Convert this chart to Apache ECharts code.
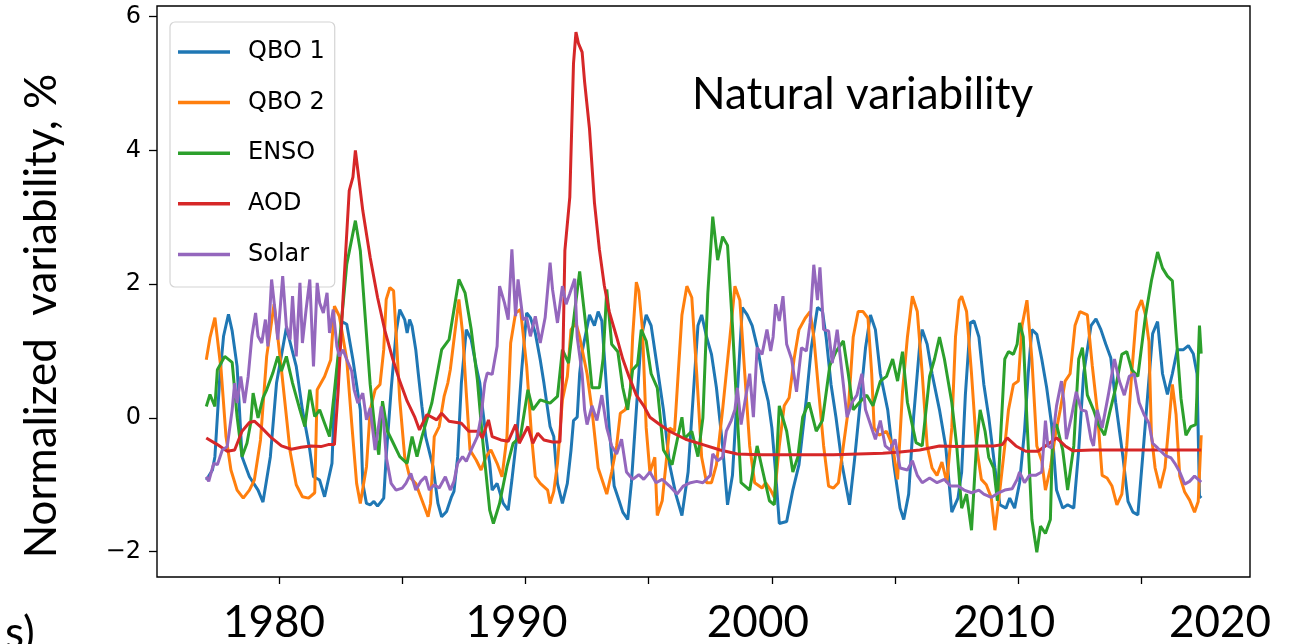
<!DOCTYPE html>
<html>
<head>
<meta charset="utf-8">
<title>Natural variability</title>
<script src="https://cdn.jsdelivr.net/npm/echarts@6/dist/echarts.min.js"></script>
<style>
  html, body { margin: 0; padding: 0; background: #ffffff; }
  #chart { width: 1294px; height: 644px; }
</style>
</head>
<body>
<div id="chart"></div>
<script>
// Normalized natural-variability proxies, [decimal year, value in %]
const seriesNames = ['QBO 1', 'QBO 2', 'ENSO', 'AOD', 'Solar'];
const seriesColors = ['#1f77b4', '#ff7f0e', '#2ca02c', '#d62728', '#9467bd'];

const qbo1 = [
  [1977.05,-0.93],[1977.3,-0.78],[1977.4,-0.58],[1977.6,0.62],[1977.75,1.22],[1977.95,1.55],[1978.1,1.3],[1978.3,0.77],[1978.5,-0.58],[1978.8,-0.88],[1979.15,-1.08],[1979.35,-1.26],[1979.65,-0.58],[1979.9,0.52],[1980.3,1.35],[1980.7,0.77],[1980.95,0.12],[1981.25,-0.48],[1981.4,-0.88],[1981.65,-0.93],[1981.85,-1.18],[1982.15,-0.68],[1982.25,0.27],[1982.55,1.44],[1982.75,1.4],[1983.0,0.87],[1983.3,0.12],[1983.4,-0.98],[1983.55,-1.28],[1983.7,-1.3],[1983.85,-1.25],[1984.0,-1.32],[1984.15,-1.25],[1984.25,-1.2],[1984.35,-0.58],[1984.55,0.42],[1984.75,1.27],[1984.9,1.62],[1985.1,1.47],[1985.2,1.27],[1985.3,1.47],[1985.4,1.37],[1985.55,1.02],[1985.65,0.67],[1985.8,0.17],[1985.95,-0.28],[1986.05,-0.43],[1986.25,-0.73],[1986.45,-1.28],[1986.6,-1.48],[1986.8,-1.4],[1987.0,-1.18],[1987.1,-1.1],[1987.25,-0.58],[1987.4,0.52],[1987.6,1.32],[1987.8,1.17],[1988.0,0.77],[1988.15,0.52],[1988.25,0.17],[1988.4,-0.28],[1988.55,-0.68],[1988.65,-1.08],[1988.85,-0.98],[1989.1,-1.28],[1989.3,-1.38],[1989.45,-0.93],[1989.65,-0.28],[1989.85,0.72],[1990.05,1.57],[1990.2,1.5],[1990.4,1.27],[1990.6,0.87],[1990.75,0.52],[1991.0,-0.13],[1991.15,-0.28],[1991.3,-0.98],[1991.5,-1.28],[1991.7,-0.98],[1991.85,-0.48],[1991.95,-0.04],[1992.1,0.01],[1992.2,0.66],[1992.3,0.99],[1992.6,1.54],[1992.8,1.38],[1992.95,1.59],[1993.1,1.45],[1993.25,0.66],[1993.4,-0.15],[1993.6,-1.02],[1993.8,-1.24],[1993.95,-1.41],[1994.15,-1.52],[1994.3,-0.97],[1994.5,0.12],[1994.7,1.21],[1994.9,1.54],[1995.1,1.38],[1995.3,0.88],[1995.45,0.5],[1995.6,0.12],[1995.85,-0.7],[1996.1,-1.14],[1996.35,-1.46],[1996.6,-0.81],[1996.8,0.29],[1997.0,1.38],[1997.15,1.54],[1997.35,1.21],[1997.55,0.95],[1997.75,0.45],[1998.0,-0.42],[1998.2,-1.3],[1998.4,-0.86],[1998.6,0.39],[1998.8,1.65],[1999.0,1.54],[1999.2,1.38],[1999.45,0.99],[1999.65,0.55],[1999.85,0.25],[2000.0,-0.15],[2000.15,-0.81],[2000.3,-1.58],[2000.6,-1.55],[2000.85,-1.08],[2001.1,-0.7],[2001.4,0.29],[2001.6,1.05],[2001.85,1.65],[2002.05,1.6],[2002.2,1.21],[2002.4,0.5],[2002.6,0.01],[2002.85,-0.7],[2003.15,-1.3],[2003.35,-0.64],[2003.6,0.29],[2003.8,1.05],[2004.0,1.54],[2004.2,1.32],[2004.4,0.66],[2004.7,0.12],[2004.95,-0.7],[2005.2,-1.35],[2005.35,-1.52],[2005.55,-1.14],[2005.75,0.01],[2006.0,1.1],[2006.1,1.32],[2006.3,1.1],[2006.5,0.66],[2006.8,0.12],[2007.05,-0.42],[2007.3,-1.41],[2007.55,-1.2],[2007.7,-0.81],[2007.85,0.34],[2008.05,1.42],[2008.2,1.45],[2008.4,1.21],[2008.6,0.5],[2008.8,0.01],[2009.05,-0.75],[2009.25,-1.3],[2009.5,-1.35],[2009.65,-1.2],[2009.85,-1.35],[2010.05,-0.97],[2010.25,-0.2],[2010.4,0.66],[2010.55,1.32],[2010.75,1.25],[2010.95,0.88],[2011.15,0.45],[2011.35,-0.1],[2011.55,-1.08],[2011.8,-1.35],[2012.0,-1.3],[2012.25,-1.35],[2012.45,-0.48],[2012.65,0.66],[2012.95,1.38],[2013.15,1.48],[2013.35,1.32],[2013.55,1.1],[2013.75,0.9],[2013.95,0.23],[2014.25,-0.6],[2014.45,-1.25],[2014.65,-1.41],[2014.85,-1.45],[2015.05,-0.56],[2015.25,0.35],[2015.45,1.26],[2015.65,1.44],[2015.85,0.66],[2016.05,0.35],[2016.25,0.66],[2016.45,1.02],[2016.7,1.02],[2016.9,1.08],[2017.1,0.96],[2017.25,0.66],[2017.35,-1.17],[2017.42,-1.2]
];

const qbo2 = [
  [1977.05,0.87],[1977.2,1.2],[1977.4,1.5],[1977.65,0.72],[1977.85,-0.28],[1978.05,-0.78],[1978.3,-1.08],[1978.55,-1.2],[1978.8,-1.08],[1979.0,-0.93],[1979.25,-0.33],[1979.5,0.92],[1979.8,1.7],[1980.1,0.72],[1980.45,-0.5],[1980.7,-1.0],[1980.95,-1.18],[1981.2,-1.2],[1981.45,-1.12],[1981.55,0.42],[1981.85,0.62],[1982.1,0.87],[1982.25,1.67],[1982.45,1.52],[1982.75,0.87],[1982.95,-0.08],[1983.15,-0.98],[1983.3,-1.28],[1983.55,-0.73],[1983.7,0.12],[1983.9,0.42],[1984.1,0.5],[1984.25,1.02],[1984.35,1.77],[1984.5,1.95],[1984.65,1.9],[1984.75,1.27],[1984.9,0.27],[1985.1,-0.58],[1985.3,-0.88],[1985.55,-0.98],[1985.7,-1.13],[1985.9,-1.33],[1986.05,-1.48],[1986.15,-1.28],[1986.3,-0.28],[1986.5,-0.13],[1986.7,0.32],[1986.85,0.52],[1986.95,0.72],[1987.3,1.77],[1987.45,1.27],[1987.6,0.37],[1987.75,-0.48],[1988.0,-0.63],[1988.2,-0.78],[1988.4,-0.58],[1988.6,-0.48],[1988.85,-0.68],[1989.05,-0.88],[1989.25,-0.28],[1989.4,1.12],[1989.6,1.57],[1989.8,1.62],[1990.05,0.77],[1990.25,-0.28],[1990.4,-0.88],[1990.6,-0.98],[1990.9,-1.08],[1991.0,-1.28],[1991.15,-1.1],[1991.3,-0.68],[1991.5,0.27],[1991.7,0.62],[1991.85,1.32],[1992.05,1.42],[1992.2,1.21],[1992.5,0.66],[1992.7,0.12],[1992.95,-0.75],[1993.15,-0.97],[1993.3,-1.14],[1993.5,-0.81],[1993.7,-0.42],[1993.85,0.07],[1994.05,0.12],[1994.25,0.34],[1994.35,1.21],[1994.5,2.03],[1994.6,1.9],[1994.75,1.32],[1994.9,-0.15],[1995.05,-0.81],[1995.25,-0.59],[1995.35,-1.46],[1995.55,-1.24],[1995.7,-0.7],[1995.85,-0.15],[1996.05,-0.2],[1996.35,1.54],[1996.55,1.97],[1996.75,1.8],[1996.95,0.66],[1997.15,-0.59],[1997.35,-0.97],[1997.55,-0.97],[1997.75,-0.7],[1998.0,0.12],[1998.3,1.21],[1998.5,1.97],[1998.7,1.76],[1998.9,0.66],[1999.1,-0.42],[1999.3,-0.97],[1999.6,-1.05],[1999.75,-0.97],[1999.95,-1.08],[2000.1,-1.19],[2000.3,-0.42],[2000.5,0.18],[2000.7,0.3],[2000.9,0.88],[2001.1,1.32],[2001.35,1.49],[2001.55,1.59],[2001.7,1.21],[2001.9,0.39],[2002.1,-0.42],[2002.3,-1.02],[2002.5,-1.05],[2002.7,-0.97],[2002.9,-0.42],[2003.1,0.12],[2003.3,1.21],[2003.5,1.59],[2003.7,1.59],[2003.9,1.49],[2004.05,0.66],[2004.15,-0.15],[2004.35,-0.26],[2004.65,-0.2],[2004.9,-0.42],[2005.1,-0.92],[2005.3,0.39],[2005.5,1.21],[2005.7,1.82],[2005.9,1.59],[2006.1,0.66],[2006.3,-0.42],[2006.5,-0.75],[2006.7,-0.86],[2006.9,-0.66],[2007.1,-0.97],[2007.3,-0.15],[2007.45,1.21],[2007.6,1.76],[2007.7,1.82],[2007.9,1.59],[2008.1,0.66],[2008.3,-0.42],[2008.5,-0.92],[2008.7,-1.0],[2008.9,-1.19],[2009.05,-1.68],[2009.25,-1.08],[2009.45,-0.42],[2009.6,0.12],[2009.8,0.5],[2010.0,0.55],[2010.15,1.38],[2010.35,1.76],[2010.55,0.88],[2010.75,-0.42],[2010.95,-0.64],[2011.1,-1.08],[2011.3,-0.75],[2011.5,-0.26],[2011.7,0.12],[2011.9,0.55],[2012.1,0.66],[2012.3,1.38],[2012.5,1.59],[2012.8,1.54],[2013.0,0.78],[2013.2,0.12],[2013.4,-0.86],[2013.6,-0.9],[2013.8,-1.02],[2014.0,-1.3],[2014.2,-1.14],[2014.4,-0.42],[2014.6,0.66],[2014.8,1.59],[2015.0,1.76],[2015.15,1.55],[2015.3,1.14],[2015.4,-0.26],[2015.55,-0.75],[2015.75,-1.05],[2015.95,-0.75],[2016.1,-0.13],[2016.25,0.5],[2016.4,0.05],[2016.55,-0.87],[2016.75,-1.11],[2016.95,-1.23],[2017.15,-1.41],[2017.3,-1.25],[2017.42,-0.26]
];

const enso = [
  [1977.05,0.17],[1977.2,0.35],[1977.4,0.17],[1977.5,0.72],[1977.8,0.92],[1978.1,0.83],[1978.3,0.02],[1978.5,-0.58],[1978.7,-0.38],[1978.85,-0.08],[1978.95,0.37],[1979.15,0.0],[1979.35,0.3],[1979.5,0.42],[1979.75,0.67],[1979.95,0.92],[1980.1,0.7],[1980.3,0.92],[1980.55,0.52],[1980.85,0.12],[1981.05,-0.13],[1981.25,0.42],[1981.45,0.02],[1981.65,0.12],[1981.85,-0.08],[1982.05,-0.28],[1982.25,0.4],[1982.5,1.3],[1982.75,2.3],[1983.1,2.95],[1983.3,2.5],[1983.5,1.5],[1983.7,0.5],[1983.9,-0.2],[1984.05,-0.55],[1984.2,0.25],[1984.4,-0.2],[1984.6,-0.35],[1984.9,-0.58],[1985.2,-0.68],[1985.4,-0.28],[1985.6,-0.58],[1985.8,-0.28],[1986.2,0.22],[1986.6,1.02],[1986.9,1.17],[1987.3,2.07],[1987.55,1.87],[1987.8,1.32],[1988.05,0.57],[1988.25,-0.28],[1988.55,-1.38],[1988.7,-1.58],[1988.95,-1.28],[1989.25,-0.73],[1989.5,-0.38],[1989.8,-0.28],[1990.1,0.42],[1990.3,0.12],[1990.6,0.27],[1991.0,0.22],[1991.3,0.32],[1991.5,1.02],[1991.75,0.82],[1992.0,1.6],[1992.2,2.19],[1992.5,1.22],[1992.7,0.45],[1993.0,0.45],[1993.15,0.88],[1993.3,1.92],[1993.5,1.1],[1993.75,0.99],[1993.95,0.45],[1994.15,0.12],[1994.35,0.72],[1994.55,0.8],[1994.7,1.32],[1994.9,1.15],[1995.1,0.66],[1995.35,0.45],[1995.6,-0.48],[1995.95,-0.7],[1996.35,0.01],[1996.45,-0.31],[1996.75,-0.2],[1997.0,-0.58],[1997.2,0.0],[1997.4,1.86],[1997.6,3.01],[1997.8,2.36],[1998.0,2.71],[1998.2,2.58],[1998.4,1.38],[1998.55,0.34],[1998.75,-0.97],[1999.1,-1.08],[1999.4,-0.42],[1999.6,-0.75],[1999.9,-1.24],[2000.1,-1.3],[2000.3,0.18],[2000.6,-0.2],[2000.85,-0.81],[2001.05,-0.59],[2001.25,0.01],[2001.5,0.23],[2001.8,-0.2],[2002.05,-0.04],[2002.35,0.78],[2002.6,0.99],[2002.9,1.15],[2003.1,0.66],[2003.3,0.12],[2003.55,0.23],[2003.85,0.34],[2004.1,0.18],[2004.4,0.55],[2004.65,0.62],[2004.9,0.88],[2005.1,0.55],[2005.3,0.99],[2005.5,0.23],[2005.85,-0.37],[2006.1,-0.42],[2006.4,0.62],[2006.6,0.88],[2006.8,1.21],[2007.0,0.88],[2007.3,0.23],[2007.5,-0.42],[2007.7,-1.35],[2007.9,-1.14],[2008.1,-1.68],[2008.3,-0.42],[2008.45,0.12],[2008.65,-0.2],[2008.8,-0.59],[2009.0,-0.75],[2009.15,-1.24],[2009.3,-0.15],[2009.45,0.88],[2009.6,0.99],[2009.8,0.95],[2009.95,1.1],[2010.05,1.42],[2010.2,1.21],[2010.35,-0.04],[2010.55,-1.52],[2010.75,-2.01],[2010.9,-1.62],[2011.1,-1.73],[2011.3,-1.52],[2011.4,-0.15],[2011.55,-0.1],[2011.8,-0.48],[2012.0,-1.08],[2012.25,-0.42],[2012.45,0.88],[2012.6,1.05],[2012.8,0.34],[2013.05,0.12],[2013.25,-0.1],[2013.5,-0.26],[2013.7,0.07],[2013.95,0.45],[2014.2,0.95],[2014.4,0.99],[2014.6,0.72],[2014.85,0.62],[2015.15,1.5],[2015.4,2.05],[2015.65,2.48],[2015.85,2.24],[2016.05,2.12],[2016.25,2.05],[2016.4,1.26],[2016.6,0.29],[2016.8,-0.26],[2017.0,-0.13],[2017.2,-0.1],[2017.35,1.38],[2017.42,0.96]
];

const aod = [
  [1977.05,-0.3],[1977.5,-0.4],[1977.9,-0.5],[1978.2,-0.48],[1978.5,-0.2],[1978.8,-0.07],[1979.0,-0.05],[1979.3,-0.15],[1979.7,-0.3],[1980.1,-0.42],[1980.5,-0.47],[1980.9,-0.44],[1981.3,-0.42],[1981.7,-0.43],[1982.0,-0.4],[1982.25,-0.4],[1982.4,0.4],[1982.6,1.8],[1982.85,3.4],[1983.0,3.6],[1983.1,4.0],[1983.2,3.7],[1983.4,3.1],[1983.7,2.4],[1984.0,1.8],[1984.3,1.3],[1984.6,0.9],[1984.9,0.55],[1985.2,0.25],[1985.5,0.02],[1985.7,-0.18],[1986.0,0.05],[1986.4,-0.03],[1986.6,0.07],[1986.9,-0.05],[1987.4,-0.08],[1987.7,-0.2],[1988.1,-0.2],[1988.25,-0.3],[1988.5,-0.03],[1988.65,-0.28],[1989.0,-0.33],[1989.3,-0.35],[1989.6,-0.1],[1989.75,-0.38],[1990.1,-0.13],[1990.3,-0.38],[1990.5,-0.23],[1990.75,-0.33],[1991.1,-0.36],[1991.4,-0.36],[1991.5,0.52],[1991.6,2.5],[1991.8,3.3],[1991.95,5.3],[1992.05,5.77],[1992.15,5.6],[1992.3,5.47],[1992.4,5.03],[1992.6,4.32],[1992.8,3.22],[1993.0,2.52],[1993.2,1.98],[1993.4,1.59],[1993.7,1.21],[1993.95,0.88],[1994.2,0.62],[1994.5,0.34],[1994.8,0.18],[1995.05,0.01],[1995.45,-0.1],[1995.85,-0.2],[1996.5,-0.32],[1997.2,-0.4],[1997.9,-0.48],[1998.6,-0.54],[1999.5,-0.55],[2001.0,-0.55],[2002.5,-0.55],[2003.5,-0.54],[2004.5,-0.53],[2005.2,-0.51],[2006.0,-0.48],[2006.8,-0.42],[2007.5,-0.43],[2008.3,-0.42],[2009.0,-0.42],[2009.35,-0.4],[2009.55,-0.3],[2009.9,-0.42],[2010.3,-0.5],[2010.8,-0.5],[2011.1,-0.42],[2011.55,-0.3],[2011.9,-0.42],[2012.2,-0.49],[2013.0,-0.48],[2014.0,-0.48],[2015.0,-0.48],[2016.0,-0.48],[2017.0,-0.48],[2017.42,-0.48]
];

const solar = [
  [1977.05,-0.88],[1977.15,-0.95],[1977.35,-0.68],[1977.5,-0.7],[1977.7,-0.48],[1977.9,-0.43],[1978.1,0.12],[1978.2,0.52],[1978.3,0.22],[1978.45,0.62],[1978.6,0.22],[1978.75,0.62],[1978.9,1.22],[1979.05,1.57],[1979.15,1.22],[1979.3,1.12],[1979.45,1.47],[1979.55,1.07],[1979.7,2.07],[1979.85,1.57],[1979.95,1.17],[1980.15,2.12],[1980.3,1.37],[1980.45,1.17],[1980.55,1.82],[1980.7,0.92],[1980.85,2.02],[1980.95,1.12],[1981.1,1.62],[1981.25,2.07],[1981.4,0.77],[1981.55,2.02],[1981.65,1.72],[1981.8,1.57],[1981.95,1.87],[1982.05,1.27],[1982.2,1.62],[1982.35,1.07],[1982.45,0.92],[1982.6,1.02],[1982.75,0.87],[1982.95,0.7],[1983.05,0.42],[1983.2,0.22],[1983.4,0.37],[1983.55,-0.03],[1983.7,0.15],[1983.9,-0.48],[1984.05,-0.1],[1984.15,0.17],[1984.25,-0.08],[1984.35,-0.58],[1984.55,-0.98],[1984.75,-1.08],[1985.0,-1.05],[1985.15,-0.98],[1985.35,-0.83],[1985.55,-1.08],[1985.75,-0.95],[1985.95,-0.88],[1986.1,-1.08],[1986.3,-1.0],[1986.5,-1.05],[1986.75,-0.88],[1986.95,-1.08],[1987.1,-0.95],[1987.25,-0.68],[1987.45,-0.58],[1987.6,-0.65],[1987.8,-0.48],[1988.05,-0.28],[1988.2,0.02],[1988.35,0.52],[1988.45,0.67],[1988.65,0.65],[1988.85,1.07],[1988.95,1.97],[1989.15,1.72],[1989.3,1.47],[1989.45,2.52],[1989.6,1.52],[1989.7,2.07],[1989.9,1.47],[1990.05,1.5],[1990.2,1.22],[1990.4,1.52],[1990.6,1.12],[1990.8,1.5],[1991.0,2.32],[1991.1,1.92],[1991.3,1.42],[1991.5,1.97],[1991.65,1.7],[1991.8,1.86],[1992.0,2.08],[1992.1,1.21],[1992.3,0.66],[1992.4,0.12],[1992.5,-0.1],[1992.7,0.18],[1992.9,-0.04],[1993.1,0.34],[1993.3,-0.15],[1993.5,-0.42],[1993.7,-0.54],[1993.9,-0.32],[1994.1,-0.81],[1994.35,-0.92],[1994.6,-0.85],[1994.8,-0.92],[1995.05,-0.81],[1995.3,-0.97],[1995.55,-0.92],[1995.85,-1.02],[1996.15,-1.14],[1996.4,-1.02],[1996.7,-0.97],[1996.95,-0.95],[1997.2,-0.97],[1997.5,-0.86],[1997.6,-0.54],[1997.8,-0.64],[1998.0,-0.59],[1998.15,-0.2],[1998.35,-0.04],[1998.5,0.12],[1998.6,0.45],[1998.75,-0.1],[1998.95,0.34],[1999.1,0.66],[1999.25,0.01],[1999.4,1.05],[1999.6,0.95],[1999.8,1.32],[1999.95,1.0],[2000.05,1.21],[2000.15,1.7],[2000.3,1.45],[2000.45,1.82],[2000.6,1.1],[2000.8,0.88],[2001.0,0.39],[2001.2,1.05],[2001.4,1.0],[2001.55,1.42],[2001.7,2.29],[2001.85,1.76],[2001.95,2.25],[2002.1,1.32],[2002.3,1.3],[2002.45,0.82],[2002.65,1.32],[2002.85,0.66],[2003.05,0.01],[2003.25,0.23],[2003.45,0.34],[2003.65,0.66],[2003.8,0.12],[2004.0,-0.1],[2004.2,-0.32],[2004.4,-0.04],[2004.6,-0.42],[2004.8,-0.48],[2005.0,-0.32],[2005.2,-0.75],[2005.5,-0.78],[2005.7,-0.64],[2005.9,-0.86],[2006.1,-0.97],[2006.4,-0.9],[2006.7,-0.97],[2007.0,-0.92],[2007.25,-1.02],[2007.55,-1.02],[2007.8,-1.08],[2008.1,-1.12],[2008.4,-1.08],[2008.6,-1.14],[2008.9,-1.19],[2009.2,-1.12],[2009.45,-1.08],[2009.75,-1.06],[2009.95,-0.92],[2010.05,-0.81],[2010.25,-0.97],[2010.45,-0.86],[2010.7,-0.86],[2010.95,-0.81],[2011.1,-0.04],[2011.2,-0.42],[2011.35,-0.45],[2011.55,0.18],[2011.75,0.55],[2011.85,0.23],[2011.95,-0.32],[2012.15,0.01],[2012.35,0.39],[2012.55,0.12],[2012.75,0.1],[2012.95,-0.32],[2013.05,-0.42],[2013.2,0.12],[2013.4,-0.15],[2013.65,0.34],[2013.9,0.88],[2014.1,0.55],[2014.3,0.34],[2014.5,0.62],[2014.7,0.66],[2014.9,0.23],[2015.1,0.05],[2015.3,-0.08],[2015.45,-0.38],[2015.65,-0.45],[2015.95,-0.56],[2016.2,-0.6],[2016.35,-0.68],[2016.55,-0.81],[2016.75,-0.99],[2016.95,-0.95],[2017.15,-0.87],[2017.42,-0.96]
];

// Axis ticks and labels
const xTickYears = [1980, 1985, 1990, 1995, 2000, 2005, 2010, 2015];
const xLabelYears = [1980, 1990, 2000, 2010];
const xEndLabel = '2020';
const yTicks = [-2, 0, 2, 4, 6];

const yTitle = 'Normalized  variability, %';
const panelTitle = 'Natural variability';
const panelTag = 's)';

const seriesData = [qbo1, qbo2, enso, aod, solar];

const chart = echarts.init(document.getElementById('chart'), null, { renderer: 'canvas' });

const bigFont = 'Lato, "Open Sans", sans-serif';
const mplFont = '"DejaVu Sans", sans-serif';

// per-label nudges for the decade labels under the axis
const labelNudge = { 1980: 10, 1990: 18, 2000: 28, 2010: 28 };
const richYears = {};
xLabelYears.forEach(y => {
  richYears['y' + y] = {
    fontFamily: bigFont, fontSize: 44, color: '#000',
    padding: [0, labelNudge[y] || 0, 0, 0]
  };
});

const option = {
  backgroundColor: '#ffffff',
  animation: false,
  grid: {
    left: 157, right: 44, top: 6, bottom: 67,
    outerBoundsMode: 'none',
    containLabel: false,
    show: true, borderColor: '#000000', borderWidth: 1.4,
    backgroundColor: 'transparent'
  },
  xAxis: {
    type: 'value',
    min: 1975.05,
    max: 2019.4,
    splitLine: { show: false },
    axisLine: { show: false, onZero: false },
    axisTick: {
      show: true, inside: false, length: 7,
      customValues: xTickYears,
      lineStyle: { color: '#000000', width: 1.3 }
    },
    axisLabel: {
      show: true,
      customValues: xLabelYears,
      margin: 24,
      fontFamily: bigFont, fontSize: 44, color: '#000',
      formatter: v => '{y' + v + '|' + v + '}',
      rich: richYears
    }
  },
  yAxis: {
    type: 'value',
    min: -2.38,
    max: 6.16,
    splitLine: { show: false },
    axisLine: { show: false, onZero: false },
    axisTick: {
      show: true, inside: false, length: 8,
      customValues: yTicks,
      lineStyle: { color: '#000000', width: 1.3 }
    },
    axisLabel: {
      show: true,
      customValues: yTicks,
      margin: 16,
      fontFamily: mplFont, fontSize: 24, color: '#000',
      formatter: v => (v < 0 ? '\u2212' + Math.abs(v) : String(v))
    }
  },
  legend: {
    orient: 'vertical',
    left: 170, top: 22,
    data: seriesNames,
    icon: 'rect',
    itemWidth: 52, itemHeight: 3.5,
    itemGap: 20.6,
    padding: [15, 10, 17.6, 8],
    backgroundColor: 'rgba(255,255,255,0.8)',
    borderColor: '#d4d4d4', borderWidth: 1.2, borderRadius: 5,
    selectedMode: false,
    textStyle: {
      fontFamily: mplFont, fontSize: 24, color: '#000',
      lineHeight: 30, padding: [0, 0, 0, 13]
    }
  },
  graphic: [
    {
      type: 'text', x: 692, y: 95,
      style: { text: panelTitle, fontFamily: bigFont, fontSize: 44, fill: '#000', align: 'left', verticalAlign: 'middle' }
    },
    {
      type: 'text', x: 42, y: 316, rotation: Math.PI / 2,
      style: { text: yTitle, fontFamily: bigFont, fontSize: 44, fill: '#000', align: 'center', verticalAlign: 'middle' }
    },
    {
      type: 'text', x: 1220, y: 623,
      style: { text: xEndLabel, fontFamily: bigFont, fontSize: 44, fill: '#000', align: 'center', verticalAlign: 'middle' }
    },
    {
      type: 'text', x: 5, y: 634,
      style: { text: panelTag, fontFamily: bigFont, fontSize: 44, fill: '#000', align: 'left', verticalAlign: 'middle' }
    }
  ],
  series: seriesNames.map((name, i) => ({
    name: name,
    type: 'line',
    data: seriesData[i],
    showSymbol: false,
    symbol: 'none',
    smooth: false,
    clip: true,
    lineStyle: { width: 3, color: seriesColors[i] },
    itemStyle: { color: seriesColors[i] },
    emphasis: { disabled: true },
    z: 2 + i
  }))
};

chart.setOption(option);
</script>
</body>
</html>
